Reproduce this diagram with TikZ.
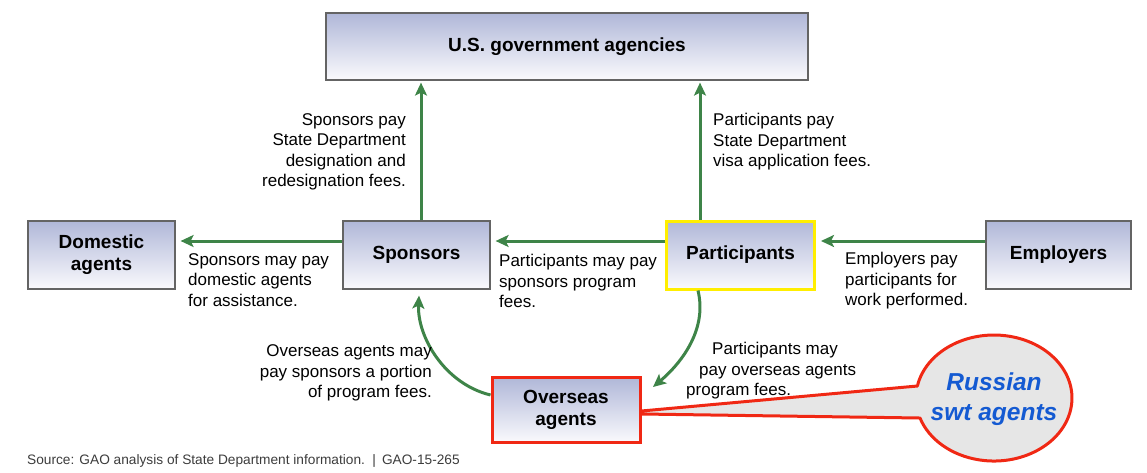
\documentclass[tikz,border=0pt]{standalone}
\usepackage{fontspec}
\setmainfont{Liberation Sans}
\usetikzlibrary{arrows.meta,calc}
\definecolor{arrowgreen}{RGB}{62,132,72}
\definecolor{boxtop}{RGB}{176,183,216}
\definecolor{boxbot}{RGB}{250,250,253}
\definecolor{boxline}{RGB}{100,100,100}
\definecolor{hiyellow}{RGB}{255,238,0}
\definecolor{hired}{RGB}{240,40,20}
\definecolor{calloutfill}{RGB}{230,230,230}
\definecolor{calloutblue}{RGB}{20,90,210}
\definecolor{sourcegray}{RGB}{60,60,60}
\begin{document}
\begin{tikzpicture}[x=1pt,y=1pt,
  box/.style={draw=boxline, line width=1.2pt, top color=boxtop, bottom color=boxbot,
    minimum width=148pt, minimum height=68pt, align=center, inner sep=0pt,
    font=\fontsize{19}{22}\selectfont\bfseries},
  arr/.style={draw=arrowgreen, line width=3pt, -{Stealth[length=13pt,width=12pt,inset=3pt]}},
  lbl/.style={font=\fontsize{17}{20.5}\selectfont, inner sep=0pt},
]
\useasboundingbox (0,0) rectangle (1147,472);

% boxes
\node[box, minimum width=482pt, minimum height=67pt] (us) at (567,425.5) {U.S. government agencies};
\node[box, minimum width=147pt] (dom) at (101.5,217) {Domestic\\agents};
\node[box, minimum width=147pt] (sp) at (416.5,217) {Sponsors};
\node[box, draw=hiyellow, line width=3pt] (pa) at (740.5,217) {Participants};
\node[box, minimum width=145pt] (em) at (1058.5,217) {Employers};
\node[box, draw=hired, line width=3pt, minimum height=65pt] (ov) at (566,62) {Overseas\\agents};

% connectors
\draw[arr, shorten >=2pt] ([xshift=4.5pt]sp.north) -- ([xshift=4.5pt]sp.north |- us.south);
\draw[arr, shorten >=2pt] ([xshift=-40.5pt]pa.north) -- ([xshift=-40.5pt]pa.north |- us.south);
\draw[arr, shorten >=5pt] ([yshift=14pt]sp.west) -- ([yshift=14pt]dom.east);
\draw[arr, shorten >=5pt] ([yshift=14pt]pa.west) -- ([yshift=14pt]sp.east);
\draw[arr, shorten >=5pt] ([yshift=14pt]em.west) -- ([yshift=14pt]pa.east);
\draw[arr] ([yshift=15pt]ov.west) .. controls (445,88) and (417,135) .. ([xshift=2.5pt,yshift=-6pt]sp.south);
\draw[arr] ([xshift=-42.5pt]pa.south) .. controls (708,140) and (678,106) .. ([xshift=11.5pt,yshift=-11pt]ov.north east);

% labels
\node[lbl, anchor=east, align=right] (t1) at (406,320) {Sponsors pay\\State Department\\designation and\\redesignation fees.};
\node[lbl, anchor=west, align=left] (t2) at (713,330) {Participants pay\\State Department\\visa application fees.};
\node[lbl, anchor=west, align=left] (t3) at (188,192) {Sponsors may pay\\domestic agents\\for assistance.};
\node[lbl, anchor=west, align=left] (t4) at (499,191) {Participants may pay\\sponsors program\\fees.};
\node[lbl, anchor=west, align=left] (t5) at (845,191) {Employers pay\\participants for\\work performed.};
\node[lbl, anchor=east, align=right] (t6) at (432,99) {Overseas agents may\\pay sponsors a portion\\of program fees.};
\node[lbl, anchor=west, align=left] (t7) at (686,101) {\hspace*{26pt}Participants may\\\hspace*{13pt}pay overseas agents\\program fees.};

% source
\node[anchor=west, inner sep=0pt, text=sourcegray, font=\fontsize{13.7}{15}\selectfont] (src) at (27,11)
  {Source: GAO analysis of State Department information. \,|\, GAO-15-265};

% callout
\coordinate (tipA) at ([yshift=-1pt]ov.east);
\coordinate (tipB) at ([yshift=-4pt]ov.east);
\draw[hired, line width=3pt, fill=calloutfill, line join=round]
  (tipA) -- (917.4,86) arc[start angle=169, end angle=-161.5, x radius=78pt, y radius=63pt] -- (tipB) -- cycle;
\node[align=center, inner sep=0pt, text=calloutblue, font=\fontsize{24.5}{30}\selectfont\bfseries\itshape] (ru) at (994,73)
  {Russian\\swt agents};
\end{tikzpicture}
\end{document}
